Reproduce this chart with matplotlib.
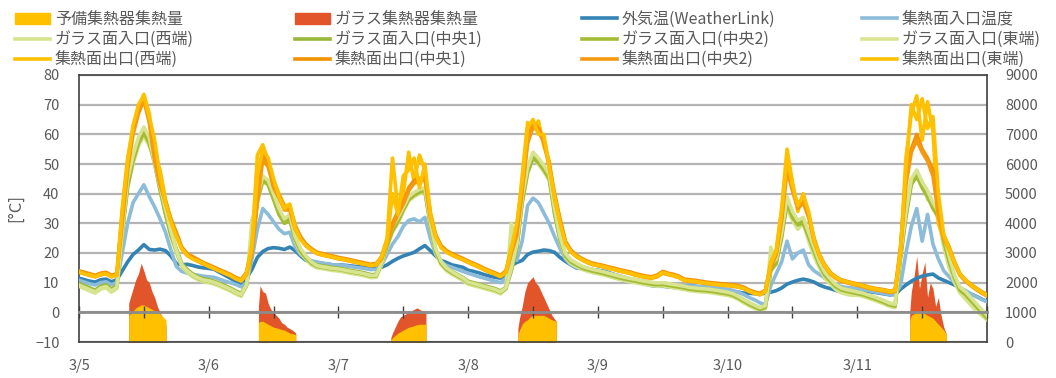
import matplotlib.pyplot as plt
import matplotlib.patches as mpatches
import matplotlib.transforms as mtransforms
from matplotlib.lines import Line2D
import numpy as np

plt.rcParams['font.family'] = ['Noto Sans CJK JP', 'DejaVu Sans']

# hourly grid, 3/5 0:00 -> 3/12 0:00
hours = np.arange(169)
day_labels = ["3/5", "3/6", "3/7", "3/8", "3/9", "3/10", "3/11"]

outdoor = [
    11.5, 11.0, 10.5, 10.2, 11.0, 11.2, 10.3, 11.0, 14.0, 17.0, 19.5, 21.0, 22.8, 21.2, 21.0, 21.3, 20.8, 19.0, 16.5, 16.0, 16.2, 15.8, 15.3, 15.0,
    14.8, 14.5, 13.5, 12.5, 11.5, 10.5, 9.5, 11.5, 14.5, 18.5, 20.5, 21.5, 21.8, 21.6, 21.2, 22.0, 20.8, 19.0, 17.5, 17.0, 16.8, 16.5, 16.3, 16.0,
    16.0, 15.9, 15.7, 15.5, 15.3, 15.1, 14.9, 14.8, 15.2, 16.0, 17.2, 18.2, 19.0, 19.6, 20.2, 21.4, 22.5, 20.8, 19.0, 17.5, 16.8, 16.0, 15.6, 15.2,
    14.2, 13.8, 13.3, 12.7, 12.2, 11.8, 11.5, 13.0, 15.8, 16.8, 17.5, 19.5, 20.3, 20.6, 21.0, 20.8, 20.2, 18.5, 17.2, 16.0, 15.0, 14.8, 14.6, 14.4,
    14.2, 13.9, 13.4, 12.8, 12.2, 11.7, 11.0, 10.4, 9.9, 9.4, 9.0, 8.8, 8.8, 8.6, 8.4, 8.3, 8.8, 9.0, 8.8, 8.5, 8.2, 7.8, 7.6, 7.5,
    7.3, 7.0, 6.8, 6.5, 6.4, 6.3, 6.3, 6.4, 6.8, 7.3, 8.2, 9.5, 10.2, 10.8, 11.2, 10.8, 10.2, 9.2, 8.5, 8.0, 7.4, 7.0, 7.2, 7.3,
    7.3, 7.1, 7.0, 6.8, 6.5, 6.2, 5.9, 6.0, 7.8, 9.2, 10.5, 11.5, 12.2, 12.6, 12.9, 11.6, 10.8, 10.0, 9.2, 8.2, 7.2, 6.2, 5.4, 4.5, 3.6]

inlet = [
    10.8, 10.2, 9.6, 9.2, 10.0, 10.3, 9.3, 10.0, 20.0, 30.0, 37.0, 40.0, 43.0, 39.0, 35.5, 31.5, 27.0, 21.0, 15.5, 13.8, 13.2, 12.8, 12.5, 12.2,
    12.0, 11.8, 11.2, 10.5, 10.0, 9.4, 8.6, 10.0, 18.0, 28.0, 35.0, 33.0, 30.5, 28.0, 26.5, 27.0, 22.0, 19.5, 18.2, 17.4, 17.0, 16.6, 16.3, 16.0,
    16.0, 15.8, 15.5, 15.2, 15.0, 14.7, 14.4, 14.5, 16.0, 19.5, 23.0, 25.5, 29.0, 31.0, 31.5, 30.5, 32.0, 25.0, 19.5, 17.0, 15.8, 15.2, 14.5, 13.8,
    13.2, 12.6, 12.0, 11.5, 11.0, 10.5, 10.0, 11.5, 19.5, 17.5, 24.0, 36.0, 38.5, 37.0, 33.5, 30.0, 25.5, 21.5, 18.0, 16.0, 15.2, 14.6, 14.3, 14.1,
    13.8, 13.5, 13.0, 12.7, 12.3, 11.8, 11.2, 10.6, 10.2, 9.8, 9.5, 9.5, 9.6, 9.3, 9.0, 8.8, 8.8, 8.9, 8.8, 8.7, 8.6, 8.4, 8.2, 8.0,
    7.8, 7.4, 6.8, 6.0, 5.0, 4.2, 3.2, 2.6, 9.0, 13.0, 17.0, 24.0, 18.0, 20.0, 21.0, 16.0, 14.0, 12.8, 11.5, 10.3, 9.3, 8.7, 8.4, 8.2,
    8.0, 7.7, 7.4, 7.0, 6.7, 6.3, 6.0, 6.2, 9.0, 20.0, 29.0, 35.0, 24.0, 33.0, 23.0, 18.0, 14.0, 12.0, 10.0, 8.3, 7.3, 6.3, 5.3, 4.4, 3.6]

glass_w = [
    8.8, 8.0, 7.2, 6.5, 7.8, 8.3, 6.8, 8.0, 30.0, 43.0, 50.0, 56.0, 59.5, 56.0, 52.0, 43.0, 33.0, 25.5, 20.0, 15.5, 13.5, 12.0, 11.0, 10.3,
    10.0, 9.5, 8.8, 8.0, 7.2, 6.2, 5.4, 9.0, 31.0, 37.0, 44.0, 43.0, 38.5, 33.0, 30.5, 32.0, 24.0, 20.0, 17.8, 16.0, 15.0, 14.7, 14.4, 14.1,
    13.9, 13.6, 13.2, 12.9, 12.6, 12.2, 11.7, 11.8, 16.0, 22.0, 27.0, 30.0, 34.0, 37.5, 39.0, 40.0, 40.5, 29.0, 20.0, 16.0, 14.0, 12.8, 11.8, 10.8,
    9.5, 9.0, 8.5, 8.0, 7.5, 7.0, 6.2, 8.0, 30.0, 21.0, 37.0, 47.0, 52.0, 50.0, 47.5, 44.5, 33.0, 24.0, 18.5, 16.5, 15.5, 14.5, 13.9, 13.4,
    13.0, 12.6, 12.1, 11.6, 11.1, 10.7, 10.3, 10.0, 9.6, 9.3, 9.0, 8.8, 8.9, 8.6, 8.3, 8.0, 7.7, 7.3, 7.1, 6.9, 6.8, 6.6, 6.3, 6.0,
    5.7, 5.2, 4.3, 3.2, 2.2, 1.3, 0.8, 1.2, 22.0, 16.0, 28.0, 35.0, 31.0, 28.0, 30.0, 24.0, 19.0, 15.0, 11.5, 9.5, 7.7, 6.6, 6.1, 5.7,
    5.8, 5.4, 4.8, 4.2, 3.5, 2.8, 2.0, 1.6, 22.0, 36.0, 45.0, 45.0, 44.0, 38.0, 37.0, 31.0, 22.0, 15.0, 10.0, 6.5, 4.5, 2.5, 0.5, -1.0, -2.5]

glass_c1 = [
    9.8, 9.0, 8.2, 7.5, 8.8, 9.3, 7.8, 9.0, 28.0, 44.0, 52.0, 58.0, 61.5, 58.0, 51.0, 42.0, 34.0, 27.0, 21.5, 16.5, 14.5, 13.0, 12.0, 11.3,
    11.0, 10.5, 9.8, 9.0, 8.2, 7.2, 6.4, 9.5, 22.0, 38.5, 45.5, 44.0, 39.0, 34.0, 31.0, 32.0, 25.0, 21.0, 18.8, 17.0, 16.0, 15.7, 15.4, 15.1,
    14.9, 14.6, 14.2, 13.9, 13.6, 13.2, 12.7, 12.8, 17.0, 23.0, 28.0, 31.0, 35.0, 38.5, 40.0, 41.0, 41.5, 30.0, 21.0, 17.0, 15.0, 13.8, 12.8, 11.8,
    10.5, 10.0, 9.5, 9.0, 8.5, 8.0, 7.2, 8.5, 14.5, 22.0, 38.0, 48.0, 53.0, 51.5, 49.0, 46.0, 34.0, 25.0, 19.5, 17.5, 16.5, 15.5, 14.9, 14.4,
    14.0, 13.6, 13.1, 12.6, 12.1, 11.7, 11.3, 11.0, 10.6, 10.3, 10.0, 9.8, 9.9, 9.6, 9.3, 9.0, 8.7, 8.3, 8.1, 7.9, 7.8, 7.6, 7.3, 7.0,
    6.7, 6.2, 5.3, 4.2, 3.2, 2.3, 1.5, 2.2, 15.0, 17.0, 26.0, 38.0, 33.0, 30.0, 31.0, 26.0, 21.0, 16.5, 13.0, 11.0, 9.2, 8.1, 7.6, 7.2,
    6.8, 6.4, 5.8, 5.2, 4.5, 3.8, 3.0, 2.6, 19.0, 33.0, 44.0, 47.0, 43.0, 40.0, 36.0, 33.0, 25.0, 18.0, 12.0, 8.0, 6.5, 4.5, 2.5, 0.5, -1.5]

glass_c2 = [
    9.3, 8.5, 7.8, 7.1, 8.3, 8.8, 7.4, 8.5, 26.0, 42.0, 51.0, 57.0, 60.5, 57.0, 50.0, 41.0, 33.0, 26.0, 20.8, 16.0, 14.0, 12.5, 11.5, 10.8,
    10.5, 10.0, 9.3, 8.5, 7.7, 6.7, 5.9, 9.0, 21.0, 37.5, 44.5, 43.0, 38.0, 33.0, 30.0, 31.0, 24.5, 20.5, 18.3, 16.5, 15.5, 15.2, 14.9, 14.6,
    14.4, 14.1, 13.7, 13.4, 13.1, 12.7, 12.2, 12.3, 16.5, 22.5, 27.5, 30.5, 34.5, 38.0, 39.5, 40.5, 41.0, 29.5, 20.5, 16.5, 14.5, 13.3, 12.3, 11.3,
    10.0, 9.5, 9.0, 8.5, 8.0, 7.5, 6.7, 8.0, 14.0, 21.5, 37.0, 47.0, 52.0, 50.5, 48.0, 45.0, 33.0, 24.5, 19.0, 17.0, 16.0, 15.0, 14.4, 13.9,
    13.5, 13.1, 12.6, 12.1, 11.6, 11.2, 10.8, 10.5, 10.1, 9.8, 9.5, 9.3, 9.4, 9.1, 8.8, 8.5, 8.2, 7.8, 7.6, 7.4, 7.3, 7.1, 6.8, 6.5,
    6.2, 5.7, 4.8, 3.7, 2.7, 1.8, 1.0, 1.7, 14.0, 16.5, 25.0, 37.0, 32.0, 29.5, 30.0, 25.5, 20.5, 16.0, 12.5, 10.5, 8.7, 7.6, 7.1, 6.7,
    6.3, 5.9, 5.3, 4.7, 4.0, 3.3, 2.5, 2.1, 18.0, 32.0, 43.0, 46.0, 42.0, 39.0, 35.0, 32.0, 24.0, 17.0, 11.5, 7.5, 6.0, 4.0, 2.0, 0.0, -2.0]

glass_e = [
    9.2, 8.4, 7.6, 6.9, 8.2, 8.7, 7.2, 8.4, 27.0, 45.0, 53.0, 59.0, 62.5, 59.0, 50.0, 42.5, 35.0, 27.5, 21.0, 16.0, 14.0, 12.6, 11.6, 10.9,
    10.6, 10.1, 9.4, 8.6, 7.8, 6.8, 6.0, 9.3, 23.0, 39.0, 46.0, 44.5, 40.0, 35.0, 31.5, 33.0, 25.5, 21.5, 19.0, 17.0, 15.8, 15.4, 15.1, 14.8,
    14.6, 14.3, 13.9, 13.6, 13.3, 12.9, 12.4, 12.5, 16.8, 24.0, 29.0, 32.0, 35.5, 39.0, 40.5, 41.5, 42.0, 30.5, 21.5, 17.2, 15.0, 13.7, 12.6, 11.6,
    10.2, 9.7, 9.2, 8.7, 8.2, 7.7, 6.9, 8.3, 15.0, 23.0, 39.0, 49.0, 54.0, 52.0, 49.5, 46.5, 35.0, 25.5, 19.8, 17.7, 16.6, 15.6, 15.0, 14.5,
    14.1, 13.7, 13.2, 12.7, 12.2, 11.8, 11.4, 11.1, 10.7, 10.4, 10.1, 9.9, 10.0, 9.7, 9.4, 9.1, 8.8, 8.4, 8.2, 8.0, 7.9, 7.7, 7.4, 7.1,
    6.8, 6.3, 5.4, 4.3, 3.3, 2.4, 1.6, 2.3, 16.0, 18.0, 27.0, 39.0, 34.0, 31.0, 32.0, 27.0, 22.0, 17.0, 13.5, 11.3, 9.4, 8.2, 7.7, 7.3,
    6.9, 6.5, 5.9, 5.3, 4.6, 3.9, 3.1, 2.7, 20.0, 34.0, 45.0, 48.0, 44.0, 41.0, 37.0, 34.0, 26.0, 19.0, 12.5, 8.5, 7.0, 5.0, 3.0, 1.0, -1.0]

outlet_w = [
    13.8, 13.2, 12.8, 12.2, 13.0, 13.2, 12.2, 12.8, 35.0, 52.0, 62.0, 69.0, 73.5, 67.0, 53.0, 48.0, 38.0, 31.0, 26.0, 22.0, 19.5, 18.2, 17.5, 16.6,
    15.7, 15.0, 14.2, 13.3, 12.5, 11.5, 10.8, 13.5, 23.0, 53.0, 56.5, 51.0, 44.5, 40.0, 36.0, 36.0, 29.5, 25.0, 22.8, 21.2, 20.0, 19.5, 19.1, 18.7,
    18.2, 17.9, 17.5, 17.1, 16.7, 16.3, 15.9, 16.2, 19.0, 25.0, 52.0, 35.0, 40.0, 54.0, 44.0, 53.0, 48.0, 34.0, 26.0, 22.0, 20.5, 19.5, 18.7, 17.9,
    17.0, 16.2, 15.4, 14.5, 13.7, 13.0, 12.2, 13.8, 22.0, 28.0, 46.0, 64.0, 62.0, 64.5, 56.0, 51.0, 38.0, 31.0, 23.5, 20.6, 19.0, 17.9, 17.0, 16.3,
    15.9, 15.5, 15.0, 14.6, 14.1, 13.7, 13.3, 12.7, 12.3, 11.9, 11.7, 12.3, 13.5, 12.9, 12.5, 11.9, 10.9, 10.7, 10.5, 10.2, 9.9, 9.7, 9.5, 9.3,
    9.2, 9.0, 8.7, 8.2, 7.2, 6.6, 6.1, 7.2, 17.0, 21.0, 35.0, 55.0, 44.0, 34.0, 40.0, 33.0, 24.0, 19.0, 15.5, 13.2, 11.7, 10.7, 10.2, 9.7,
    9.3, 8.9, 8.3, 7.9, 7.6, 7.3, 6.9, 7.2, 20.0, 52.0, 67.0, 73.0, 58.0, 71.0, 61.0, 30.0, 25.0, 21.0, 16.5, 12.7, 10.7, 9.2, 7.9, 6.7, 5.7]

outlet_c1 = [
    14.0, 13.5, 13.0, 12.5, 13.2, 13.5, 12.5, 13.0, 33.0, 50.0, 61.0, 68.0, 72.5, 65.0, 52.0, 44.0, 37.5, 31.5, 27.0, 22.0, 19.8, 18.8, 17.8, 16.8,
    16.0, 15.2, 14.4, 13.6, 12.8, 11.8, 11.0, 13.5, 21.0, 38.0, 53.0, 50.0, 43.0, 39.5, 35.5, 35.5, 29.0, 25.5, 23.0, 21.5, 20.3, 19.8, 19.4, 19.0,
    18.5, 18.2, 17.8, 17.4, 17.0, 16.6, 16.2, 16.5, 18.5, 24.0, 30.0, 34.0, 37.0, 42.0, 44.5, 45.0, 46.0, 33.0, 26.0, 22.5, 20.8, 19.8, 19.0, 18.2,
    17.3, 16.5, 15.7, 14.8, 14.0, 13.3, 12.5, 14.0, 21.0, 27.0, 42.0, 58.0, 64.0, 62.0, 58.5, 50.0, 40.0, 31.5, 24.0, 21.0, 19.3, 18.2, 17.3, 16.6,
    16.2, 15.8, 15.3, 14.9, 14.4, 14.0, 13.6, 13.0, 12.6, 12.2, 12.0, 12.6, 13.8, 13.2, 12.8, 12.2, 11.2, 11.0, 10.8, 10.5, 10.2, 10.0, 9.8, 9.6,
    9.5, 9.3, 9.0, 8.5, 7.5, 6.9, 6.4, 7.5, 16.0, 20.0, 32.0, 50.0, 42.0, 36.0, 38.0, 33.0, 25.0, 19.5, 16.0, 13.5, 12.0, 11.0, 10.5, 10.0,
    9.6, 9.2, 8.6, 8.2, 7.9, 7.6, 7.2, 7.5, 22.0, 45.0, 55.0, 60.0, 55.0, 52.0, 48.0, 34.0, 26.0, 22.0, 17.0, 13.0, 11.0, 9.5, 8.2, 7.0, 6.0]

outlet_c2 = [
    13.4, 13.0, 12.4, 12.0, 12.6, 13.0, 12.0, 12.5, 30.0, 48.0, 60.0, 67.0, 71.5, 64.0, 51.0, 43.0, 37.0, 31.0, 26.5, 21.5, 19.2, 18.2, 17.2, 16.3,
    15.5, 14.7, 13.9, 13.1, 12.3, 11.3, 10.5, 12.8, 20.0, 37.0, 51.5, 49.0, 42.0, 38.5, 34.5, 34.5, 28.0, 24.8, 22.4, 21.0, 19.8, 19.3, 18.9, 18.5,
    18.0, 17.7, 17.3, 16.9, 16.5, 16.1, 15.7, 16.0, 18.0, 23.5, 29.0, 33.0, 36.5, 41.0, 43.5, 44.0, 45.0, 32.0, 25.5, 22.0, 20.3, 19.3, 18.5, 17.7,
    16.8, 16.0, 15.2, 14.3, 13.5, 12.8, 12.0, 13.5, 20.0, 26.0, 41.0, 57.0, 62.5, 61.0, 57.5, 49.0, 39.0, 30.5, 23.5, 20.5, 18.8, 17.7, 16.8, 16.1,
    15.7, 15.3, 14.8, 14.4, 13.9, 13.5, 13.1, 12.5, 12.1, 11.7, 11.5, 12.0, 13.2, 12.7, 12.3, 11.7, 10.7, 10.5, 10.3, 10.0, 9.7, 9.5, 9.3, 9.1,
    9.0, 8.8, 8.5, 8.0, 7.0, 6.4, 5.9, 7.0, 15.0, 19.5, 31.0, 48.0, 41.0, 35.0, 37.0, 32.0, 24.0, 19.0, 15.5, 13.0, 11.5, 10.5, 10.0, 9.5,
    9.1, 8.7, 8.1, 7.7, 7.4, 7.1, 6.7, 7.0, 21.0, 43.0, 54.0, 58.0, 54.0, 51.0, 46.0, 33.0, 25.0, 21.5, 16.5, 12.5, 10.5, 9.0, 7.7, 6.5, 5.5]

outlet_e = [
    13.6, 13.0, 12.6, 12.0, 12.8, 13.0, 12.0, 12.6, 34.0, 51.0, 63.0, 70.0, 73.0, 66.0, 58.0, 46.0, 37.0, 30.5, 25.5, 21.5, 19.2, 18.0, 17.3, 16.5,
    15.5, 14.8, 14.0, 13.2, 12.4, 11.4, 10.6, 13.2, 22.0, 46.0, 55.0, 52.0, 45.0, 39.0, 35.0, 36.5, 28.5, 24.5, 22.5, 21.0, 19.9, 19.4, 19.0, 18.6,
    18.1, 17.8, 17.4, 17.0, 16.6, 16.2, 15.8, 16.1, 18.8, 24.0, 40.0, 33.0, 46.0, 48.0, 52.0, 42.0, 50.0, 33.0, 25.5, 21.8, 20.3, 19.3, 18.5, 17.8,
    16.9, 16.1, 15.3, 14.4, 13.6, 12.9, 12.1, 13.6, 21.5, 30.0, 44.0, 62.0, 65.0, 60.0, 60.0, 49.0, 39.0, 30.0, 23.2, 20.4, 18.9, 17.8, 16.9, 16.2,
    15.8, 15.4, 14.9, 14.5, 14.0, 13.6, 13.2, 12.6, 12.2, 11.8, 11.6, 12.2, 13.4, 12.8, 12.4, 11.8, 10.8, 10.6, 10.4, 10.1, 9.8, 9.6, 9.4, 9.2,
    9.1, 8.9, 8.6, 8.1, 7.1, 6.5, 6.0, 7.1, 16.5, 20.5, 34.0, 52.0, 43.0, 36.0, 39.5, 34.0, 24.5, 19.2, 15.7, 13.3, 11.8, 10.8, 10.3, 9.8,
    9.4, 9.0, 8.4, 8.0, 7.7, 7.4, 7.0, 7.3, 21.0, 48.0, 70.0, 65.0, 72.0, 62.0, 66.0, 40.0, 26.0, 21.5, 16.8, 12.9, 10.9, 9.3, 8.0, 6.8, 5.8]

# collected heat (right axis), only during the sunny hours
area_hours = [0,
              9.2, 9.2, 9.5, 10.0, 10.5, 11.0, 11.5, 12.0, 12.5, 13.0, 13.5, 14.0, 14.5, 15.0, 15.5, 16.1, 16.1,
              33.2, 33.2, 33.5, 34.0, 34.5, 35.0, 35.5, 36.0, 36.5, 37.0, 37.5, 38.0, 38.5, 39.0, 39.5, 40.1, 40.1,
              57.7, 57.7, 58.0, 58.5, 59.0, 59.5, 60.0, 60.5, 61.0, 61.5, 62.0, 62.5, 63.0, 63.5, 64.2, 64.2,
              81.2, 81.2, 81.5, 82.0, 82.5, 83.0, 83.5, 84.0, 84.5, 85.0, 85.5, 86.0, 86.5, 87.0, 87.5, 88.3, 88.3,
              153.7, 153.7, 154.0, 154.5, 155.0, 155.5, 156.0, 156.5, 157.0, 157.5, 158.0, 158.5, 159.0, 159.5, 160.0, 160.5, 160.5,
              168]
glass_heat = [0,
              0, 1300, 1500, 1800, 2100, 2300, 2650, 2400, 2100, 2000, 1700, 1500, 1200, 1000, 800, 550, 0,
              0, 1200, 1900, 1700, 1650, 1300, 1100, 1000, 900, 800, 650, 600, 500, 450, 400, 300, 0,
              0, 150, 300, 500, 700, 850, 900, 950, 1000, 1050, 1100, 1150, 1100, 1050, 1050, 0,
              0, 450, 800, 1200, 1700, 2000, 2100, 2200, 2000, 1900, 1700, 1500, 1300, 1100, 900, 700, 0,
              0, 1000, 1700, 2200, 2900, 1800, 2300, 2700, 1500, 2000, 1800, 1200, 1500, 900, 500, 250, 0,
              0]
spare_heat = [0,
              0, 900, 950, 1050, 1150, 1200, 1250, 1250, 1200, 1150, 1100, 1050, 1000, 950, 850, 750, 0,
              0, 650, 700, 700, 650, 600, 550, 500, 480, 450, 420, 400, 350, 300, 280, 250, 0,
              0, 50, 150, 220, 300, 350, 400, 450, 500, 520, 550, 580, 600, 600, 600, 0,
              0, 250, 400, 600, 700, 750, 850, 900, 900, 900, 900, 900, 850, 800, 750, 700, 0,
              0, 700, 900, 950, 1000, 1000, 1000, 950, 900, 850, 800, 700, 600, 500, 400, 250, 0,
              0]

gray = '#595959'

fig = plt.figure(figsize=(10.56, 3.78), dpi=100)
ax = fig.add_axes([79 / 1056, 1 - 342 / 378, 908 / 1056, 267 / 378])
ax2 = ax.twinx()
ax.set_zorder(2)
ax2.set_zorder(1)
ax.patch.set_visible(False)
ax2.patch.set_visible(True)
ax2.patch.set_facecolor('white')

# areas on the right axis, behind the lines
ax2.fill_between(area_hours, glass_heat, color='#E2542A', lw=0)
ax2.fill_between(area_hours, spare_heat, color='#FFC000', lw=0)
ax2.set_ylim(0, 9000)
ax2.set_yticks(range(0, 9001, 1000))
ax2.grid(axis='y', color='#b4b4b4', lw=1.6)
ax2.set_axisbelow(True)
ax2.tick_params(axis='y', length=0, pad=13, labelsize=10.5, labelcolor=gray)
for sp in ax2.spines.values():
    sp.set_color('#404040')
    sp.set_linewidth(1.2)

lw = 2.6
series = [
    (outdoor, '#3383B5', '外気温(WeatherLink)'),
    (inlet, '#8CBCD9', '集熱面入口温度'),
    (glass_w, '#D6E48E', 'ガラス面入口(西端)'),
    (glass_c1, '#98B83A', 'ガラス面入口(中央1)'),
    (glass_c2, '#A4BC34', 'ガラス面入口(中央2)'),
    (glass_e, '#D9E490', 'ガラス面入口(東端)'),
    (outlet_w, '#FFC000', '集熱面出口(西端)'),
    (outlet_c1, '#F39200', '集熱面出口(中央1)'),
    (outlet_c2, '#F59A10', '集熱面出口(中央2)'),
    (outlet_e, '#FFC000', '集熱面出口(東端)'),
]
line_handles = []
for vals, col, name in series:
    ln, = ax.plot(hours, vals, color=col, lw=lw, label=name, solid_joinstyle='round')
    line_handles.append(ln)

ax.set_xlim(0, 168)
ax.set_ylim(-10, 80)
ax.set_yticks(range(-10, 81, 10))
ax.tick_params(axis='y', length=0, pad=14, labelsize=10.5, labelcolor=gray)
for side in ['left', 'right', 'top']:
    ax.spines[side].set_visible(False)
ax.spines['bottom'].set_position(('data', 0))
ax.spines['bottom'].set_color('#8c8c8c')
ax.spines['bottom'].set_linewidth(2)
ax.set_xticks(np.arange(0, 169, 12))
ax.tick_params(axis='x', direction='inout', length=9, width=1, color='#404040', labelbottom=False)

trans = mtransforms.blended_transform_factory(ax.transData, ax.transAxes)
for i, lab in enumerate(day_labels):
    ax.text(i * 24, -0.09, lab, transform=trans, ha='center', va='center', fontsize=10.5, color=gray)

ax.set_ylabel('[°C]', fontsize=12, color=gray, labelpad=8)

# legend: 3 rows x 4 columns
handles = [mpatches.Patch(color='#FFC000', label='予備集熱器集熱量'),
           mpatches.Patch(color='#E2542A', label='ガラス集熱器集熱量')] + line_handles
col_x = [15, 295, 582, 862]
for j in range(4):
    fig.legend(handles=handles[j::4], loc='upper left', bbox_to_anchor=(col_x[j] / 1056, 1 - 11 / 378),
               frameon=False, fontsize=11.5, handlelength=2.2, handletextpad=0.3, labelspacing=0.2,
               borderpad=0, borderaxespad=0, labelcolor=gray)

fig.savefig('out.png', dpi=100)
